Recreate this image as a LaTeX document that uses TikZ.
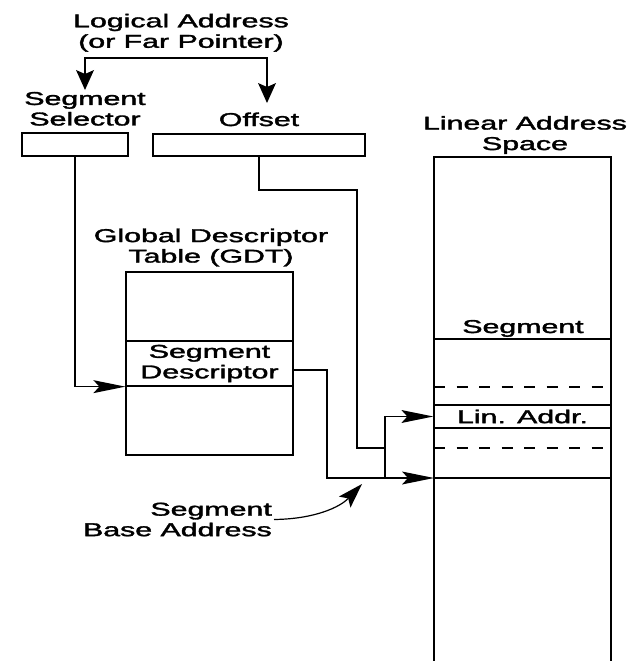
\documentclass[tikz,border=0pt]{standalone}
\usepackage{fontspec}
\setmainfont{Liberation Sans}
\newfontfamily\lblfont{Liberation Sans}[FakeBold=1.6]
\usepackage{graphicx}
\usetikzlibrary{arrows.meta}
\newcommand\Wd[1]{\scalebox{1.63}[1]{#1}}
\tikzset{
  vtip/.tip={Stealth[length=20pt,width=18pt,inset=4pt,line width=0pt]},
  htip/.tip={Stealth[length=32pt,width=13pt,inset=6pt,line width=0pt]},
  ctip/.tip={Stealth[length=25pt,width=16pt,inset=5pt,line width=0pt]},
  lbl/.style={inner sep=0pt, font=\lblfont\fontsize{18.6}{20.5}\selectfont, align=center},
  box/.style={draw, inner sep=0pt, line width=1.4pt},
  wire/.style={line width=1.4pt},
  dashrow/.style={line width=1.5pt, dash pattern=on 11pt off 11.5pt},
}
\begin{document}
\begin{tikzpicture}[x=1pt,y=-1pt]
\useasboundingbox (0,0) rectangle (633,661);
% labels
\node[lbl] (logi) at (181,32.7) {\Wd{Logical Address}\\\Wd{(or Far Pointer)}};
\node[lbl] (sellab) at (85,108.8) {\Wd{Segment}\\\Wd{Selector}};
\node[lbl, anchor=base] (offlab) at (259,126) {\Wd{Offset}};
\node[lbl] (linlab) at (525,135) {\Wd{Linear Address}\\\Wd{Space}};
\node[lbl] (gdtlab) at (211,247.5) {\Wd{Global Descriptor}\\\Wd{Table (GDT)}};
\node[lbl, align=right, anchor=east] (sba) at (272,519.5) {\Wd{Segment}\\\Wd{Base Address}};
% boxes
\node[box, minimum width=106pt, minimum height=23pt] (sel) at (75,144.5) {};
\node[box, minimum width=212pt, minimum height=22pt] (off) at (259,145) {};
\node[box, minimum width=167pt, minimum height=183pt] (gdt) at (209.5,363.5) {};
\node[box, lbl, draw, line width=1.3pt, minimum width=167pt, minimum height=45pt] (desc) at (209.5,363.5) {\Wd{Segment}\\\Wd{Descriptor}};
% linear address space
\draw[line width=1.8pt] (434,661) -- (434,157) -- (611,157) -- (611,661);
\node[lbl, anchor=base] (segl) at (523,333) {\Wd{Segment}};
\draw[wire] (434,339) -- (611,339);
\draw[dashrow] (434,387) -- (611,387);
\node[box, lbl, draw, line width=1.3pt, minimum width=177pt, minimum height=23pt] (la) at (522.5,416.5) {\Wd{Lin. Addr.}};
\draw[dashrow] (434,448) -- (611,448);
\draw[wire] (434,478) -- (611,478);
\coordinate (base) at (434,478);
% connectors
\coordinate (selin) at (85,90);
\coordinate (offin) at (267,103);
\coordinate (tj) at (176,58);
\draw[wire, {vtip}-{vtip}] (selin) |- (tj) -| (offin);
\draw[wire, -{htip}] (sel.south) |- (desc.south west);
\coordinate (j1) at (357,190);
\coordinate (j2) at (385,448);
\coordinate (sum) at (385,478);
\draw[wire] (off.south) |- (j1) |- (j2);
\draw[wire, -{htip}] (sum) |- (la.west);
\coordinate (bj) at (327,478);
\draw[wire, -{htip}] ([yshift=-6.5pt]desc.east) -| (bj) -- (base);
\coordinate (bpt) at (362,484);
\draw[line width=1.2pt, -{ctip}] ([xshift=2pt]sba.east) .. controls (315,519) and (340,507) .. (bpt);
\end{tikzpicture}
\end{document}
